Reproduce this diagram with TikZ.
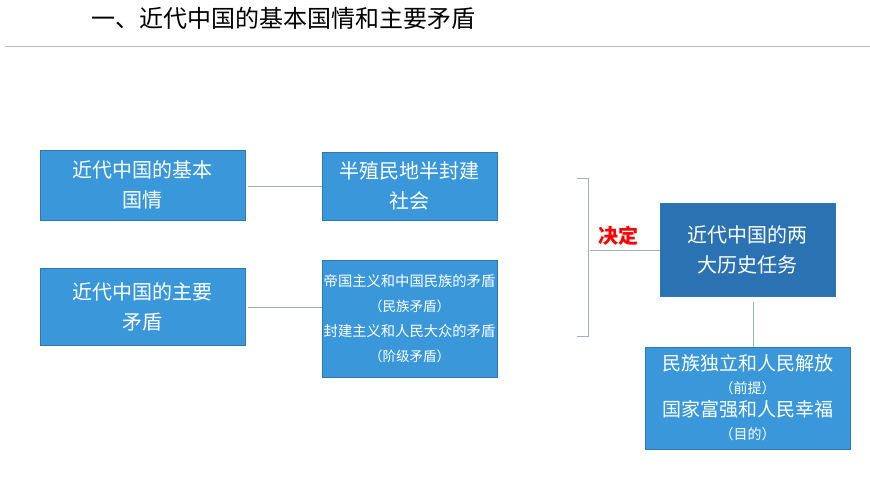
\documentclass[tikz,border=0pt]{standalone}
\usepackage{fontspec}
\setmainfont{Noto Sans CJK SC}
\definecolor{boxblue}{HTML}{3A98DA}
\definecolor{darkblue}{HTML}{2B72B2}
\definecolor{linegray}{HTML}{A8AEB8}
\tikzset{
  box/.style={fill=boxblue, draw=boxblue!80!black, line width=0.4pt, text=white,
    inner sep=0pt, font=\fontsize{20}{30}\selectfont, align=center},
  link/.style={draw=linegray, line width=0.8pt}
}
\begin{document}
\begin{tikzpicture}[x=1pt,y=-1pt]
  \useasboundingbox (0,0) rectangle (870,489);
  \node[anchor=west, font=\fontsize{24}{28}\selectfont] (title) at (88,18) {一、近代中国的基本国情和主要矛盾};
  \draw[linegray!80, line width=1pt] (5,47) -- (870,47);

  \node[box, minimum width=205, minimum height=70] (qing) at (142.5,185) {近代中国的基本\\国情};
  \node[box, minimum width=205, minimum height=77] (maodun) at (142.5,306.5) {近代中国的主要\\矛盾};
  \node[box, minimum width=175, minimum height=68] (shehui) at (409.5,186) {半殖民地半封建\\社会};
  \node[box, minimum width=175, minimum height=117, font=\fontsize{14.3}{25}\selectfont] (detail) at (409.5,318.5)
    {帝国主义和中国民族的矛盾\\{\fontsize{13.5}{20}\selectfont（民族矛盾）}\\封建主义和人民大众的矛盾\\{\fontsize{13.5}{20}\selectfont（阶级矛盾）}};
  \node[box, fill=darkblue, minimum width=175, minimum height=93] (renwu) at (747.5,249.5) {近代中国的两\\大历史任务};
  \node[box, minimum width=205, minimum height=102, font=\fontsize{19}{23}\selectfont] (mubiao) at (747.5,398)
    {民族独立和人民解放\\{\fontsize{14}{18}\selectfont（前提）}\\国家富强和人民幸福\\{\fontsize{14}{18}\selectfont（目的）}};

  \coordinate (q1) at (248,186);
  \coordinate (m1) at (248,307);
  \draw[link] (q1) -- (q1 -| shehui.west);
  \draw[link] (m1) -- (m1 -| detail.west);
  \draw[link] (577,178) -- (588,178) -- (588,336) -- (577,336);
  \coordinate (jue) at (590,250);
  \draw[link] (jue) -- (jue -| renwu.west);
  \node[text=red, font=\bfseries\fontsize{20}{22}\selectfont] (jueding) at (618,236) {决定};
  \coordinate (r1) at (753,302);
  \draw[link] (r1) -- (r1 |- mubiao.north);
\end{tikzpicture}
\end{document}
